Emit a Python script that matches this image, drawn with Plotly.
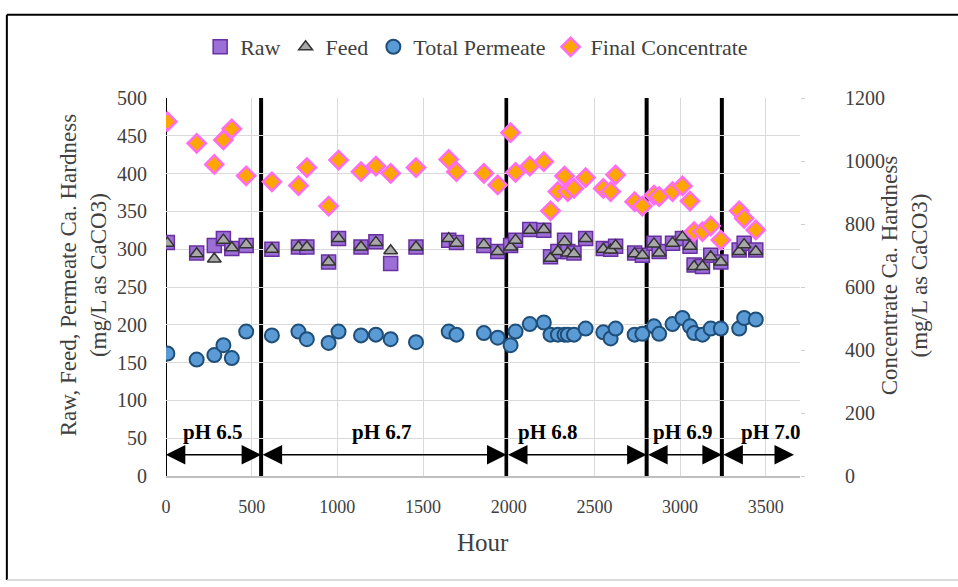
import plotly.graph_objects as go

# Sampling time (hours) and measured Ca hardness (mg/L as CaCO3)
hours = [8, 179, 282, 335, 384, 468, 618, 773, 822, 949, 1007, 1138, 1225, 1311,
         1459, 1650, 1695, 1855, 1936, 2011, 2040, 2123, 2205, 2244, 2287, 2326,
         2345, 2381, 2449, 2552, 2595, 2624, 2735, 2780, 2848, 2878, 2956, 3014,
         3058, 3082, 3131, 3179, 3238, 3345, 3374, 3442]
raw = [309, 295, 305, 314, 301, 305, 300, 303, 303, 283, 314, 303, 310, 281,
       303, 312, 309, 305, 297, 305, 312, 326, 325, 290, 297, 312,
       297, 295, 314, 301, 300, 304, 295, 292, 308, 297, 308, 314,
       304, 279, 277, 292, 283, 299, 308, 299]
feed = [308, 294, 287, 312, 302, 306, 300, 303, 303, 283, 314, 303, 309, 298,
        303, 314, 308, 306, 297, 303, 312, 325, 326, 288, 297, 310,
        295, 294, 314, 300, 299, 305, 294, 292, 307, 295, 308, 316,
        304, 277, 277, 290, 283, 297, 306, 297]
permeate = [162, 154, 160, 173, 156, 191, 186, 191, 181, 176, 191, 186, 187, 181,
            177, 191, 187, 189, 183, 173, 191, 201, 203, 187, 187, 187,
            187, 187, 195, 190, 182, 195, 187, 188, 198, 188, 201, 209,
            198, 189, 187, 195, 195, 195, 209, 207]
concentrate = [1125, 1056, 989, 1067, 1102, 953, 934, 922, 979, 857, 1003, 966, 984, 961,
               979, 1005, 966, 961, 924, 1090, 964, 984, 998, 842, 903, 952,
               903, 913, 947, 913, 903, 956, 871, 857, 892, 887, 903, 921,
               873, 776, 776, 794, 749, 842, 818, 781]

# pH set-point periods: boundaries (hours) and labels
ph_bounds = [0, 555, 1987, 2805, 3244]
ph_arrow_ends = [-10, 555, 1987, 2805, 3244, 3665]
ph_labels = ["pH 6.5", "pH 6.7", "pH 6.8", "pH 6.9", "pH 7.0"]
ph_label_x = [275, 1260, 2230, 3015, 3530]

SERIF = "Liberation Serif"

fig = go.Figure()
fig.add_trace(go.Scatter(
    x=hours, y=raw, name="Raw", mode="markers",
    marker=dict(symbol="square", size=14, color="#9b6fd6",
                line=dict(color="#6a2fa0", width=1.5))))
fig.add_trace(go.Scatter(
    x=hours, y=feed, name="Feed", mode="markers",
    marker=dict(symbol="triangle-up", size=12, color="#a8a8a8",
                line=dict(color="#333333", width=1.5))))
fig.add_trace(go.Scatter(
    x=hours, y=permeate, name="Total Permeate", mode="markers",
    marker=dict(symbol="circle", size=14, color="#5b9bd5",
                line=dict(color="#1f4e79", width=2))))
fig.add_trace(go.Scatter(
    x=hours, y=concentrate, name="Final Concentrate", mode="markers", yaxis="y2",
    marker=dict(symbol="diamond", size=14, color="#ffa500",
                line=dict(color="#ff6cf0", width=2.5))))

# Period boundary lines
for i, b in enumerate(ph_bounds):
    fig.add_shape(type="line", xref="x", yref="y", x0=b, x1=b, y0=0, y1=500,
                  line=dict(color="black", width=2 if i == 0 else 4), layer="below")

# Double-headed arrows spanning each period, with labels
for i, lab in enumerate(ph_labels):
    fig.add_annotation(x=ph_arrow_ends[i + 1], y=28, ax=ph_arrow_ends[i], ay=28,
                       xref="x", yref="y", axref="x", ayref="y", text="",
                       showarrow=True, arrowhead=2, arrowside="end+start",
                       arrowsize=2.6, arrowwidth=1.5, arrowcolor="black",
                       standoff=0, startstandoff=0)
    fig.add_annotation(x=ph_label_x[i], y=58, xref="x", yref="y", text=f"<b>{lab}</b>",
                       showarrow=False, font=dict(family=SERIF, size=21, color="black"))

# Axis titles
fig.add_annotation(x=-0.13, y=0.53, xref="paper", yref="paper", textangle=-90,
                   xanchor="center", yanchor="middle",
                   text="Raw, Feed, Permeate Ca. Hardness<br>(mg/L as CaCO3)",
                   showarrow=False, font=dict(family=SERIF, size=23, color="#404040"))
fig.add_annotation(x=1.165, y=0.53, xref="paper", yref="paper", textangle=-90,
                   xanchor="center", yanchor="middle",
                   text="Concentrate Ca. Hardness<br>(mg/L as CaCO3)",
                   showarrow=False, font=dict(family=SERIF, size=23, color="#404040"))
fig.add_annotation(x=0.5, y=-0.177, xref="paper", yref="paper", text="Hour",
                   xanchor="center", yanchor="middle",
                   showarrow=False, font=dict(family=SERIF, size=25, color="#404040"))

# Outer frame
frame = dict(xref="paper", yref="paper", type="line")
fig.add_shape(**frame, x0=-0.251, x1=1.25, y0=1.22, y1=1.22, line=dict(color="black", width=2))
fig.add_shape(**frame, x0=-0.251, x1=-0.251, y0=1.22, y1=-0.275, line=dict(color="black", width=2))
fig.add_shape(**frame, x0=-0.251, x1=1.25, y0=-0.275, y1=-0.275, line=dict(color="#d0d0d0", width=1.5))

fig.update_layout(
    width=958, height=587,
    margin=dict(l=166, r=158, t=98, b=111),
    paper_bgcolor="white", plot_bgcolor="white",
    font=dict(family=SERIF, color="#404040"),
    showlegend=True,
    legend=dict(orientation="h", x=0.49, xanchor="center", y=1.135, yanchor="middle",
                font=dict(family=SERIF, size=22, color="#404040"),
                itemwidth=30, tracegroupgap=0),
    xaxis=dict(range=[0, 3700], tickvals=[0, 500, 1000, 1500, 2000, 2500, 3000, 3500],
               showgrid=True, gridcolor="#d9d9d9", gridwidth=1,
               showline=True, linecolor="#bfbfbf", linewidth=1.5,
               zeroline=False, ticks="", tickfont=dict(size=18),
               ticklabelstandoff=14),
    yaxis=dict(range=[0, 500], dtick=50, showgrid=True, gridcolor="#d9d9d9", gridwidth=1,
               zeroline=False, showline=False, ticks="", tickfont=dict(size=20),
               ticklabelstandoff=18),
    yaxis2=dict(range=[0, 1200], dtick=200, overlaying="y", side="right", showgrid=False,
                zeroline=False, showline=False, ticks="outside", ticklen=4,
                tickcolor="#d0d0d0", tickfont=dict(size=20), ticklabelstandoff=36),
)

fig.write_html("out.html")
